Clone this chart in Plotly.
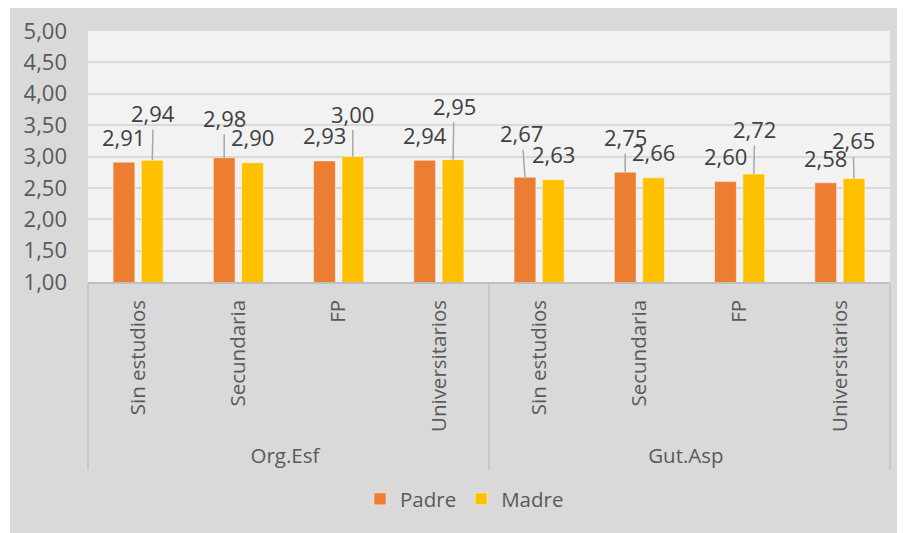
import plotly.graph_objects as go

groups = ["Org.Esf"] * 4 + ["Gut.Asp"] * 4
levels = ["Sin estudios", "Secundaria", "FP", "Universitarios"] * 2
padre = [2.91, 2.98, 2.93, 2.94, 2.67, 2.75, 2.60, 2.58]
madre = [2.94, 2.90, 3.00, 2.95, 2.63, 2.66, 2.72, 2.65]
series_names = ["Padre", "Madre"]
y_ticks = [1.0, 1.5, 2.0, 2.5, 3.0, 3.5, 4.0, 4.5, 5.0]

# label placement (pixel offsets from bar top) and whether a leader line shows
padre_off = [(0, -25), (0, -40), (0, -26), (0, -25), (-3, -44), (0, -35), (0, -26), (0, -25)]
madre_off = [(1, -47), (0, -26), (0, -43), (1, -54), (0, -26), (0, -26), (1, -45), (-1, -38)]
padre_lead = [False, True, False, False, True, True, False, False]
madre_lead = [True, False, True, True, False, False, True, True]

ORANGE = "#ED7D31"
YELLOW = "#FFC000"
TXT = "#595959"
LBL = "#404040"
FONT = "Open Sans"
NUM_SIZE = 22
TEXT_SIZE = 20.5

fig = go.Figure()
fig.add_trace(go.Bar(name=series_names[0], x=[groups, levels], y=padre,
                     marker=dict(color=ORANGE, line=dict(color="rgba(255,255,255,0.45)", width=1))))
fig.add_trace(go.Bar(name=series_names[1], x=[groups, levels], y=madre,
                     marker=dict(color=YELLOW, line=dict(color="rgba(255,255,255,0.45)", width=1))))

bargap = 0.435
bargroupgap = 0.233
slot = (1 - bargap) / 2
annotations = []
for i in range(len(levels)):
    for vals, offs, lead, sign in ((padre, padre_off, padre_lead, -1), (madre, madre_off, madre_lead, 1)):
        v = vals[i]
        annotations.append(dict(
            x=i + sign * slot / 2, y=v, xref="x", yref="y",
            text=f"{v:.2f}".replace(".", ","),
            showarrow=True, arrowhead=0, arrowwidth=1.5, standoff=0,
            arrowcolor="#a6a6a6" if lead[i] else "rgba(0,0,0,0)",
            ax=offs[i][0], ay=offs[i][1],
            font=dict(family=FONT, size=NUM_SIZE, color=LBL),
        ))

W, H = 897, 525
L, R, T, B = 80, 15, 23, 251
pw, ph = W - L - R, H - T - B
shapes = [
    dict(type="rect", xref="paper", yref="paper", layer="below",
         x0=(2 - L) / pw, x1=(W - L) / pw, y0=-B / ph, y1=(H - B) / ph,
         fillcolor="#d9d9d9", line=dict(width=0)),
    dict(type="rect", xref="paper", yref="paper", layer="below",
         x0=0, x1=1, y0=0, y1=1, fillcolor="#f2f2f2", line=dict(width=0)),
]

fig.update_layout(
    width=W, height=H,
    margin=dict(l=L, r=R, t=T, b=B, autoexpand=False),
    paper_bgcolor="white", plot_bgcolor="rgba(0,0,0,0)",
    barmode="group", bargap=bargap, bargroupgap=bargroupgap,
    separators=",.",
    font=dict(family=FONT, size=TEXT_SIZE, color=TXT),
    showlegend=True,
    legend=dict(orientation="h", x=(456.5 - L) / pw, xanchor="center",
                y=(H - B - 491) / ph, yanchor="middle",
                font=dict(family=FONT, size=TEXT_SIZE, color=TXT), bgcolor="rgba(0,0,0,0)"),
    shapes=shapes,
    annotations=annotations,
)
fig.update_yaxes(range=[1, 5], tickvals=y_ticks, tickformat=".2f",
                 showgrid=True, gridcolor="#d9d9d9", gridwidth=1.5,
                 zeroline=False, showline=False, ticks="",
                 ticklabelstandoff=20, automargin=False,
                 tickfont=dict(family=FONT, size=NUM_SIZE, color=TXT))
fig.update_xaxes(type="multicategory", tickangle=-90, showline=True,
                 linecolor="#bfbfbf", linewidth=1.5, ticks="",
                 showdividers=True, dividercolor="#c8c8c8", dividerwidth=1.5,
                 ticklabelstandoff=8, automargin=False,
                 tickfont=dict(family=FONT, size=TEXT_SIZE, color=TXT))

fig.write_html("out.html")
